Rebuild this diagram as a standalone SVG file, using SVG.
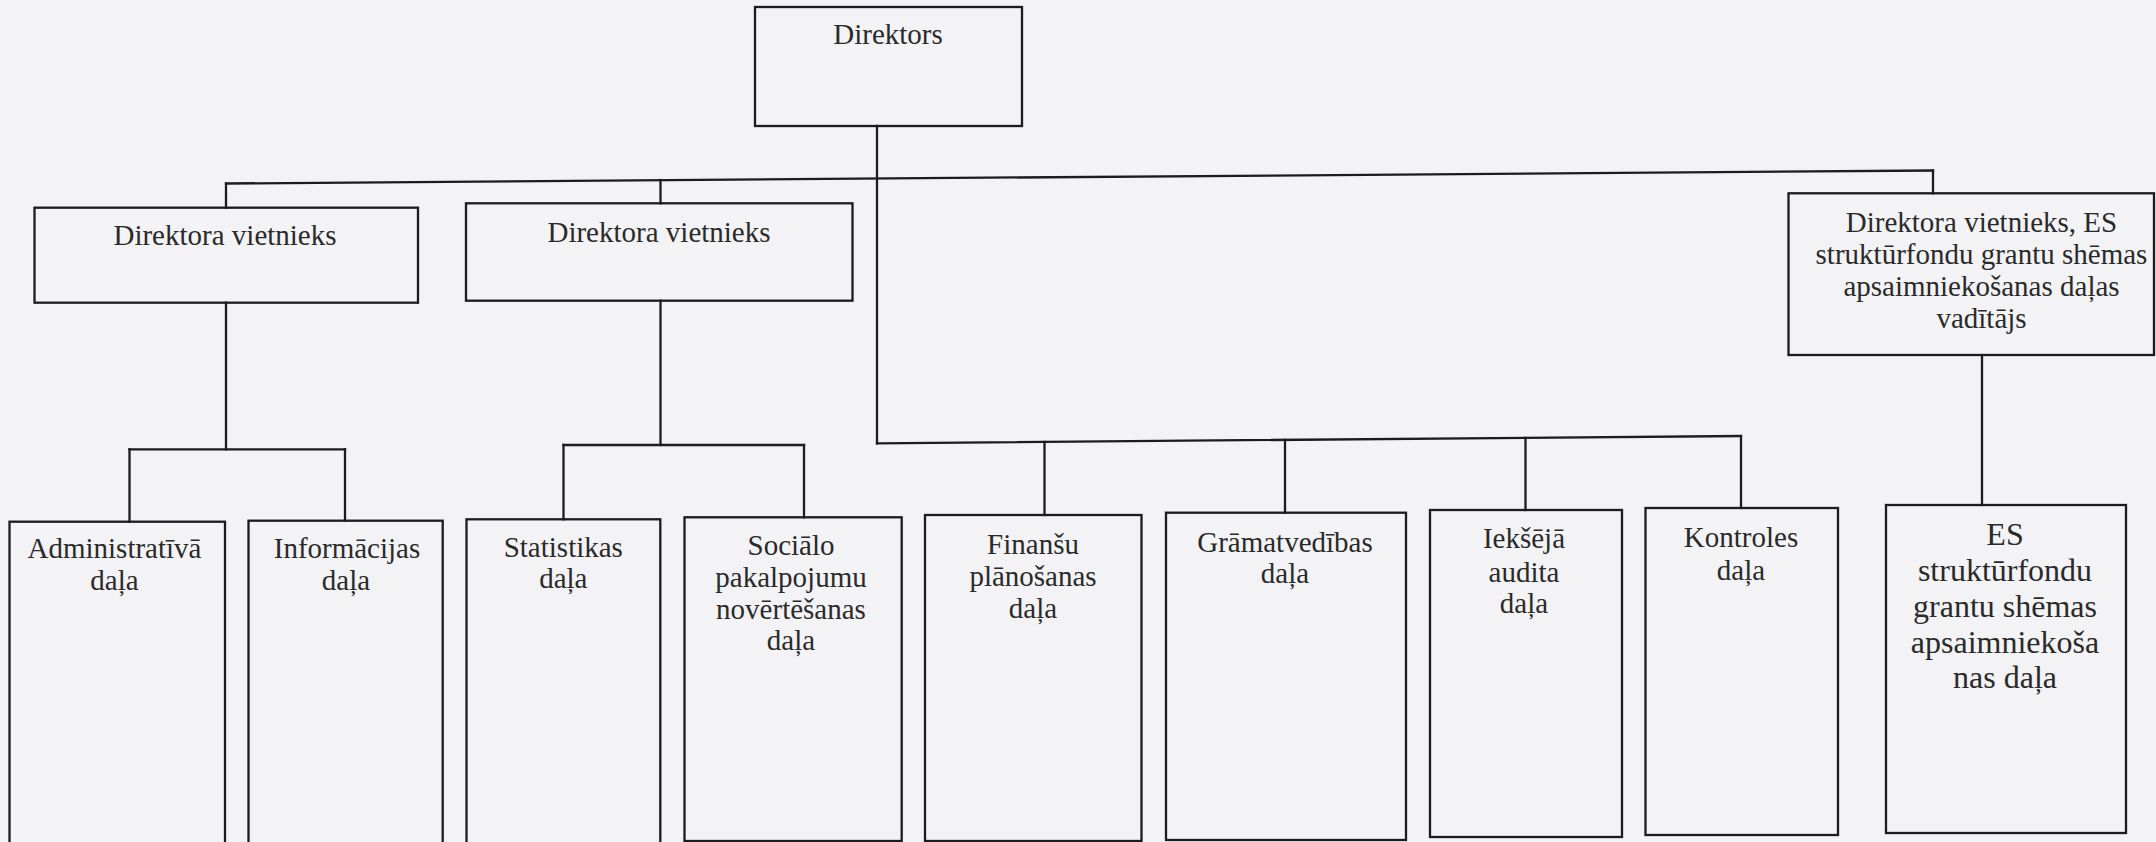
<svg xmlns="http://www.w3.org/2000/svg" width="2156" height="842" viewBox="0 0 2156 842">
<style>
.box{fill:none;stroke:#1c1c1c;stroke-width:2.3}
.ln{fill:none;stroke:#1c1c1c;stroke-width:2.3;stroke-linecap:square}
text{font-family:"Liberation Serif","Times New Roman",serif;font-size:29px;fill:#2a2a2a;text-anchor:middle}
.big{font-size:32px}
</style>
<rect x="0" y="0" width="2156" height="842" fill="#f3f3f5"/>
<g id="connectors">
<path class="ln" d="M877 126 V443.3"/>
<path class="ln" d="M226 183.5 L1933 170.5"/>
<path class="ln" d="M226 183.5 V207.7"/>
<path class="ln" d="M660.5 180 V203.3"/>
<path class="ln" d="M1933 170.5 V193.3"/>
<path class="ln" d="M226 302.7 V449.3"/>
<path class="ln" d="M129.5 449.3 H345"/>
<path class="ln" d="M129.5 449.3 V521.7"/>
<path class="ln" d="M345 449.3 V520.7"/>
<path class="ln" d="M660.5 300.7 V445"/>
<path class="ln" d="M563.5 445 H804"/>
<path class="ln" d="M563.5 445 V519.3"/>
<path class="ln" d="M804 445 V517.3"/>
<path class="ln" d="M877 443.3 L1741 436"/>
<path class="ln" d="M1044.5 441.9 V515"/>
<path class="ln" d="M1285 439.9 V512.7"/>
<path class="ln" d="M1525.5 437.9 V510"/>
<path class="ln" d="M1741 436 V508"/>
<path class="ln" d="M1982 355 V505"/>
</g>
<g id="n-direktors">
<rect class="box" x="755" y="7" width="267" height="119"/>
<text x="888" y="44">Direktors</text>
</g>
<g id="n-vietnieks1">
<rect class="box" x="34.5" y="207.7" width="383.5" height="95"/>
<text x="225" y="245">Direktora vietnieks</text>
</g>
<g id="n-vietnieks2">
<rect class="box" x="466" y="203.3" width="386.5" height="97.4"/>
<text x="659" y="241.7">Direktora vietnieks</text>
</g>
<g id="n-vietnieks3">
<rect class="box" x="1788.5" y="193.3" width="365.5" height="161.7"/>
<text x="1981.5" y="232">Direktora vietnieks, ES</text>
<text x="1981.5" y="264">struktūrfondu grantu shēmas</text>
<text x="1981.5" y="296">apsaimniekošanas daļas</text>
<text x="1981.5" y="328">vadītājs</text>
</g>
<g id="n-admin">
<rect class="box" x="9.5" y="521.7" width="215.5" height="340"/>
<text x="114.5" y="558.3">Administratīvā</text>
<text x="114.5" y="590">daļa</text>
</g>
<g id="n-info">
<rect class="box" x="248.5" y="520.7" width="194.2" height="340"/>
<text x="347" y="558.3">Informācijas</text>
<text x="346" y="590">daļa</text>
</g>
<g id="n-stat">
<rect class="box" x="466.5" y="519.3" width="193.8" height="340"/>
<text x="563.3" y="556.7">Statistikas</text>
<text x="563.3" y="588.3">daļa</text>
</g>
<g id="n-soc">
<rect class="box" x="684.5" y="517.3" width="217.2" height="323.7"/>
<text x="791" y="555">Sociālo</text>
<text x="791" y="586.7">pakalpojumu</text>
<text x="791" y="619">novērtēšanas</text>
<text x="791" y="650">daļa</text>
</g>
<g id="n-fin">
<rect class="box" x="925" y="515" width="216.5" height="326"/>
<text x="1033" y="553.5">Finanšu</text>
<text x="1033" y="586">plānošanas</text>
<text x="1033" y="618">daļa</text>
</g>
<g id="n-gram">
<rect class="box" x="1166" y="512.7" width="240" height="327.3"/>
<text x="1285" y="551.7">Grāmatvedības</text>
<text x="1285" y="583.3">daļa</text>
</g>
<g id="n-iek">
<rect class="box" x="1430" y="510" width="192" height="327"/>
<text x="1524" y="548">Iekšējā</text>
<text x="1524" y="581.7">audita</text>
<text x="1524" y="613.3">daļa</text>
</g>
<g id="n-kontr">
<rect class="box" x="1645.5" y="508" width="192.5" height="327"/>
<text x="1741" y="546.7">Kontroles</text>
<text x="1741" y="580">daļa</text>
</g>
<g id="n-es">
<rect class="box" x="1886" y="505" width="240" height="328"/>
<text class="big" x="2005" y="545">ES</text>
<text class="big" x="2005" y="581">struktūrfondu</text>
<text class="big" x="2005" y="616.5">grantu shēmas</text>
<text class="big" x="2005" y="652.5">apsaimniekoša</text>
<text class="big" x="2005" y="688">nas daļa</text>
</g>
</svg>
